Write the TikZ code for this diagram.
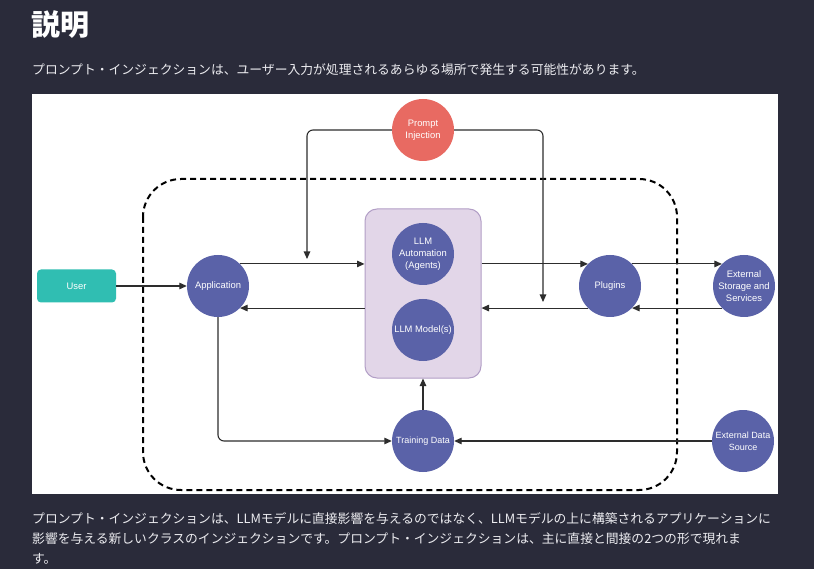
\documentclass[tikz,border=0pt]{standalone}
\usepackage{fontspec}
\setmainfont{Liberation Sans}
\newfontfamily\jp{Noto Sans CJK JP}
\usetikzlibrary{arrows.meta}
\definecolor{bg}{RGB}{42,43,58}
\definecolor{cblue}{RGB}{90,98,168}
\definecolor{cred}{RGB}{232,106,98}
\definecolor{cteal}{RGB}{48,190,178}
\definecolor{pfill}{RGB}{226,214,232}
\definecolor{pborder}{RGB}{178,158,198}
\definecolor{lnc}{RGB}{45,45,45}
\definecolor{txt}{RGB}{236,236,240}
\begin{document}
\begin{tikzpicture}[x=1pt,y=-1pt,
  circ/.style={circle, fill=cblue, minimum size=62pt, inner sep=0pt, text=white,
    font=\fontsize{9.4}{12}\selectfont, align=center},
  arr/.style={draw=lnc, line width=1.1pt, -{Triangle[length=7.5pt,width=6.5pt]}},
  jptext/.style={anchor=west, inner sep=0pt, text=txt, font=\jp\fontsize{12.8}{15}\selectfont}]
% background and panel
\fill[bg] (0,0) rectangle (814,569);
\fill[white] (32,94) rectangle (778,494);
% title and texts
\node[anchor=west, inner sep=0pt, text=white, font=\jp\bfseries\fontsize{29}{32}\selectfont] (title) at (31,25) {説明};
\node[jptext] (sub) at (32,70) {プロンプト・インジェクションは、ユーザー入力が処理されるあらゆる場所で発生する可能性があります。};
\node[jptext] (l1) at (32,519) {プロンプト・インジェクションは、LLMモデルに直接影響を与えるのではなく、LLMモデルの上に構築されるアプリケーションに};
\node[jptext] (l2) at (32,539) {影響を与える新しいクラスのインジェクションです。プロンプト・インジェクションは、主に直接と間接の2つの形で現れま};
\node[jptext] (l3) at (32,559) {す。};
% dashed boundary
\draw[black, line width=2pt, dash pattern=on 6pt off 4pt, rounded corners=38pt] (143,179) rectangle (677,490);
% LLM container
\node[draw=pborder, fill=pfill, rounded corners=12pt, minimum width=116pt, minimum height=169pt, line width=1pt, inner sep=0pt] (llm) at (423,293.5) {};
% nodes
\node[circ, fill=cred] (pi) at (423,130) {Prompt\\Injection};
\node[circ] (auto) at (423,254) {LLM\\Automation\\(Agents)};
\node[circ] (model) at (423,330) {LLM Model(s)};
\node[circ] (app) at (218,286) {Application};
\node[circ] (plug) at (610,286) {Plugins};
\node[circ] (ext) at (744,286) {External\\Storage and\\Services};
\node[circ, font=\fontsize{9}{12}\selectfont] (td) at (423,441) {Training Data};
\node[circ, font=\fontsize{9}{12}\selectfont] (eds) at (743,441) {External Data\\Source};
\node[fill=cteal, rounded corners=4pt, minimum width=79pt, minimum height=33pt, inner sep=0pt, text=white, font=\fontsize{9.4}{11}\selectfont] (user) at (76.5,286) {User};
% free ends
\coordinate (pil) at (307,259);
\coordinate (pir) at (543,302);
% connectors
\draw[arr] (user.east) -- (app.west);
\draw[arr] (app.45) -- (app.45 -| llm.west);
\draw[arr] (app.-45 -| llm.west) -- (app.-45);
\draw[arr] (plug.135 -| llm.east) -- (plug.135);
\draw[arr] (plug.-135) -- (plug.-135 -| llm.east);
\draw[arr] (plug.45) -- (ext.135);
\draw[arr] (ext.-135) -- (plug.-45);
\draw[arr, rounded corners=6pt] (pi.west) -| (pil);
\draw[arr, rounded corners=6pt] (pi.east) -| (pir);
\draw[arr, rounded corners=6pt] (app.south) |- (td.west);
\draw[arr] (td.north) -- (llm.south);
\draw[arr] (eds.west) -- (td.east);
\end{tikzpicture}
\end{document}
